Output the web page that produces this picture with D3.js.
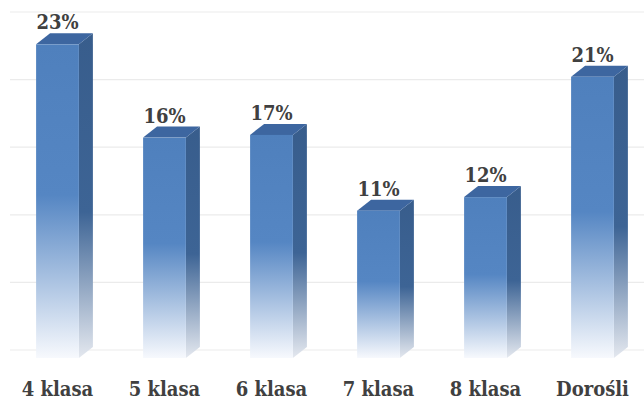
<!DOCTYPE html>
<html>
<head>
<meta charset="utf-8">
<script src="https://cdn.jsdelivr.net/npm/d3@7"></script>
<style>
  body { margin: 0; background: #fff; }
  svg text { font-family: "DejaVu Serif Condensed", "DejaVu Serif", serif; font-stretch: condensed; font-weight: bold; fill: #404040; }
</style>
</head>
<body>
<div id="chart"></div>
<script>
const categories = ["4 klasa", "5 klasa", "6 klasa", "7 klasa", "8 klasa", "Dorośli"];
const values = [23.2, 16.3, 16.5, 10.9, 11.9, 20.8];
const gridTicks = [0, 5, 10, 15, 20, 25];

const width = 644, height = 400;
const depthX = 14, depthY = 11;

const svg = d3.select("#chart").append("svg")
  .attr("width", width).attr("height", height);

// back wall scale (gridlines) and front face offset
const y = d3.scaleLinear().domain([0, 25]).range([350, 12]);
const frontShift = 8;

const x = d3.scaleBand().domain(categories).range([4, 646]).paddingInner(0.6).paddingOuter(0.3);

const defs = svg.append("defs");
const gFront = defs.append("linearGradient").attr("id", "gFront")
  .attr("x1", 0).attr("y1", 0).attr("x2", 0).attr("y2", 1);
gFront.append("stop").attr("offset", 0).attr("stop-color", "#4f80bd");
gFront.append("stop").attr("offset", 0.48).attr("stop-color", "#5586c3");
gFront.append("stop").attr("offset", 1).attr("stop-color", "#f7f9fd");

const gSide = defs.append("linearGradient").attr("id", "gSide")
  .attr("x1", 0).attr("y1", 0).attr("x2", 0).attr("y2", 1);
gSide.append("stop").attr("offset", 0).attr("stop-color", "#385d8c");
gSide.append("stop").attr("offset", 0.55).attr("stop-color", "#3d6495");
gSide.append("stop").attr("offset", 1).attr("stop-color", "#e4e8ef");

svg.append("g").selectAll("line").data(gridTicks).join("line")
  .attr("x1", 10).attr("x2", width)
  .attr("y1", d => y(d)).attr("y2", d => y(d))
  .attr("stroke", "#ebebeb").attr("stroke-width", 1.2);

const data = categories.map((c, i) => ({ c, v: values[i] }));

const bars = svg.append("g").selectAll("g").data(data).join("g");

const fx = d => x(d.c);
const fw = x.bandwidth();
const yTop = d => y(d.v) + frontShift;
const yBot = y(0) + frontShift;

// side face
bars.append("path")
  .attr("d", d => `M${fx(d) + fw},${yTop(d)} L${fx(d) + fw + depthX},${yTop(d) - depthY} L${fx(d) + fw + depthX},${yBot - depthY} L${fx(d) + fw},${yBot} Z`)
  .attr("fill", "url(#gSide)");

// top face
bars.append("path")
  .attr("d", d => `M${fx(d)},${yTop(d)} L${fx(d) + depthX},${yTop(d) - depthY} L${fx(d) + fw + depthX},${yTop(d) - depthY} L${fx(d) + fw},${yTop(d)} Z`)
  .attr("fill", "#3d66a0");

// front face
bars.append("rect")
  .attr("x", fx).attr("y", yTop)
  .attr("width", fw).attr("height", d => yBot - yTop(d))
  .attr("fill", "url(#gFront)");

bars.append("text")
  .attr("x", d => fx(d) + fw / 2)
  .attr("y", d => yTop(d) - depthY - 4)
  .attr("text-anchor", "middle")
  .style("font-size", "20px")
  .text(d => Math.round(d.v) + "%");

svg.append("g").selectAll("text").data(categories).join("text")
  .attr("x", d => x(d) + fw / 2)
  .attr("y", 396)
  .attr("text-anchor", "middle")
  .style("font-size", "20px")
  .text(d => d);
</script>
</body>
</html>
